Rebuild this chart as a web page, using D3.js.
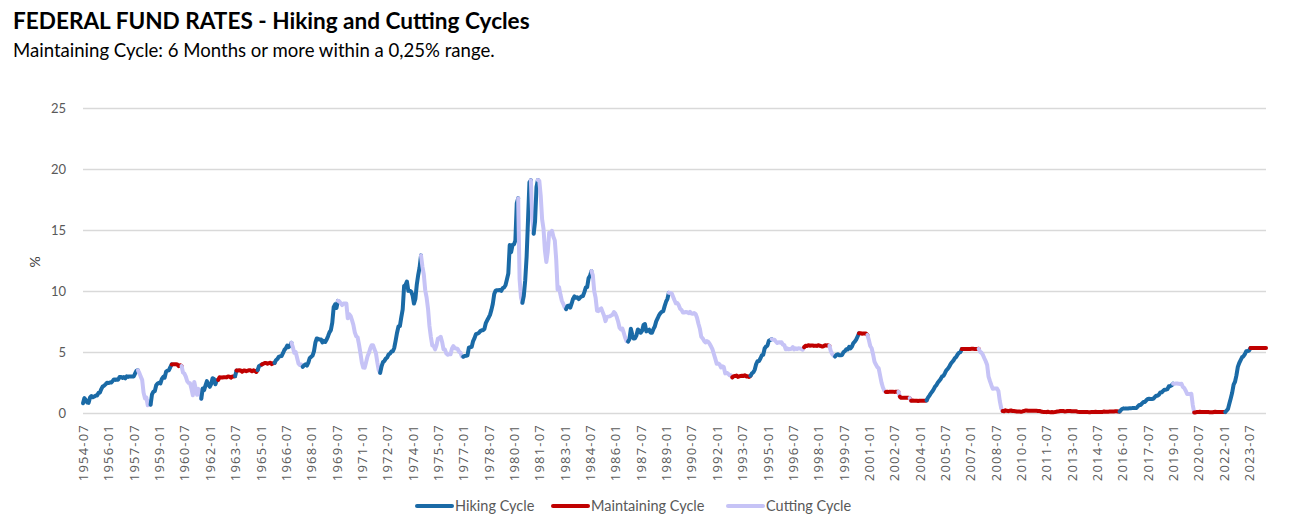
<!DOCTYPE html>
<html>
<head>
<meta charset="utf-8">
<script src="https://cdn.jsdelivr.net/npm/d3@7"></script>
<style>
  body { margin: 0; background: #fff; }
  svg { display: block; font-family: Lato, "Open Sans", sans-serif; }
</style>
</head>
<body>
<div id="chart"></div>
<script>
// monthly effective federal funds rate, 1954-07 .. 2024-07
var startMonth = '1954-07';
var rates = [].concat(
  [0.80, 1.22, 1.07, 0.85, 0.83, 1.28],
  [1.39, 1.29, 1.35, 1.43, 1.43, 1.64, 1.68, 1.96, 2.18, 2.24, 2.35, 2.48],
  [2.45, 2.50, 2.50, 2.62, 2.75, 2.71, 2.75, 2.73, 2.95, 2.96, 2.88, 2.94],
  [2.84, 3.00, 2.96, 3.00, 3.00, 3.00, 2.99, 3.24, 3.47, 3.50, 3.28, 2.98],
  [2.72, 1.67, 1.20, 1.26, 0.63, 0.93, 0.68, 1.53, 1.76, 1.80, 2.27, 2.42],
  [2.48, 2.43, 2.80, 2.96, 2.90, 3.39, 3.47, 3.50, 3.76, 3.98, 4.00, 3.99],
  [3.99, 3.97, 3.84, 3.92, 3.85, 3.32, 3.23, 2.98, 2.60, 2.47, 2.44, 1.98],
  [1.45, 2.54, 2.02, 1.49, 1.98, 1.73, 1.17, 2.00, 1.88, 2.26, 2.61, 2.33],
  [2.15, 2.37, 2.85, 2.78, 2.36, 2.68, 2.71, 2.93, 2.90, 2.90, 2.94, 2.93],
  [2.92, 3.00, 2.98, 2.90, 3.00, 2.99, 3.02, 3.49, 3.48, 3.50, 3.48, 3.38],
  [3.48, 3.48, 3.43, 3.47, 3.50, 3.50, 3.42, 3.50, 3.45, 3.36, 3.52, 3.85],
  [3.90, 3.98, 4.04, 4.09, 4.10, 4.04, 4.09, 4.12, 4.01, 4.08, 4.10, 4.32],
  [4.42, 4.60, 4.65, 4.67, 4.90, 5.17, 5.30, 5.53, 5.40, 5.53, 5.76, 5.40],
  [4.94, 5.00, 4.53, 4.05, 3.94, 3.98, 3.79, 3.90, 3.99, 3.88, 4.13, 4.51],
  [4.60, 4.71, 5.05, 5.76, 6.11, 6.07, 6.02, 6.03, 5.78, 5.91, 5.82, 6.02],
  [6.30, 6.61, 6.79, 7.41, 8.67, 8.90, 8.61, 9.19, 9.15, 9.00, 8.85, 8.97],
  [8.98, 8.98, 7.76, 8.10, 7.95, 7.61, 7.21, 6.61, 6.29, 6.20, 5.60, 4.90],
  [4.14, 3.72, 3.71, 4.16, 4.63, 4.91, 5.31, 5.56, 5.55, 5.20, 4.91, 4.14],
  [3.50, 3.29, 3.83, 4.17, 4.27, 4.46, 4.55, 4.80, 4.87, 5.04, 5.06, 5.33],
  [5.94, 6.58, 7.09, 7.12, 7.84, 8.49, 10.40, 10.50, 10.78, 10.01, 10.03, 9.95],
  [9.65, 8.97, 9.35, 10.51, 11.31, 11.93, 12.92, 12.01, 11.34, 10.06, 9.45, 8.53],
  [7.13, 6.24, 5.54, 5.49, 5.22, 5.55, 6.10, 6.14, 6.24, 5.82, 5.22, 5.20],
  [4.87, 4.77, 4.84, 4.82, 5.29, 5.48, 5.31, 5.29, 5.25, 5.02, 4.95, 4.65],
  [4.61, 4.68, 4.69, 4.73, 5.35, 5.39, 5.42, 5.90, 6.14, 6.47, 6.51, 6.56],
  [6.70, 6.78, 6.79, 6.89, 7.36, 7.60, 7.81, 8.04, 8.45, 8.96, 9.76, 10.03],
  [10.07, 10.06, 10.09, 10.01, 10.24, 10.29, 10.47, 10.94, 11.43, 13.77, 13.18, 13.78],
  [13.82, 14.13, 17.19, 17.61, 10.98, 9.47, 9.03, 9.61, 10.87, 12.81, 15.85, 18.90],
  [19.08, 15.93, 14.70, 15.72, 18.52, 19.10, 19.04, 17.82, 15.87, 15.08, 13.31, 12.37],
  [13.22, 14.78, 14.68, 14.94, 14.45, 14.15, 12.59, 10.12, 10.31, 9.71, 9.20, 8.95],
  [8.68, 8.51, 8.77, 8.80, 8.63, 8.98, 9.37, 9.56, 9.45, 9.48, 9.34, 9.47],
  [9.56, 9.59, 9.91, 10.29, 10.32, 11.06, 11.23, 11.64, 11.30, 9.99, 9.43, 8.38],
  [8.35, 8.50, 8.58, 8.27, 7.97, 7.53, 7.88, 7.90, 7.92, 7.99, 8.05, 8.27],
  [8.14, 7.86, 7.48, 6.99, 6.85, 6.92, 6.56, 6.17, 5.89, 5.85, 6.04, 6.91],
  [6.43, 6.10, 6.13, 6.37, 6.85, 6.73, 6.58, 6.73, 7.22, 7.29, 6.69, 6.77],
  [6.83, 6.58, 6.58, 6.87, 7.09, 7.51, 7.75, 8.01, 8.19, 8.30, 8.35, 8.76],
  [9.12, 9.36, 9.85, 9.84, 9.81, 9.53, 9.24, 8.99, 9.02, 8.84, 8.55, 8.45],
  [8.23, 8.24, 8.28, 8.26, 8.18, 8.29, 8.15, 8.13, 8.20, 8.11, 7.81, 7.31],
  [6.91, 6.25, 6.12, 5.91, 5.78, 5.90, 5.82, 5.66, 5.45, 5.21, 4.81, 4.43],
  [4.03, 4.06, 3.98, 3.73, 3.82, 3.76, 3.25, 3.30, 3.22, 3.10, 3.09, 2.92],
  [3.02, 3.03, 3.07, 2.96, 3.00, 3.04, 3.06, 3.03, 3.09, 2.99, 3.02, 2.96],
  [3.05, 3.25, 3.34, 3.56, 4.01, 4.25, 4.26, 4.47, 4.73, 4.76, 5.29, 5.45],
  [5.53, 5.92, 5.98, 6.05, 6.01, 6.00, 5.85, 5.74, 5.80, 5.76, 5.80, 5.60],
  [5.56, 5.22, 5.31, 5.22, 5.24, 5.27, 5.40, 5.22, 5.30, 5.24, 5.31, 5.29],
  [5.25, 5.19, 5.39, 5.51, 5.50, 5.56, 5.52, 5.54, 5.54, 5.50, 5.52, 5.50],
  [5.56, 5.51, 5.49, 5.45, 5.49, 5.56, 5.54, 5.55, 5.51, 5.07, 4.83, 4.68],
  [4.63, 4.76, 4.81, 4.74, 4.74, 4.76, 4.99, 5.07, 5.22, 5.20, 5.42, 5.30],
  [5.45, 5.73, 5.85, 6.02, 6.27, 6.53, 6.54, 6.50, 6.52, 6.51, 6.51, 6.40],
  [5.98, 5.49, 5.31, 4.80, 4.21, 3.97, 3.77, 3.65, 3.07, 2.49, 2.09, 1.82],
  [1.73, 1.74, 1.73, 1.75, 1.75, 1.75, 1.73, 1.74, 1.75, 1.75, 1.34, 1.24],
  [1.24, 1.26, 1.25, 1.26, 1.26, 1.22, 1.01, 1.03, 1.01, 1.01, 1.00, 0.98],
  [1.00, 1.01, 1.00, 1.00, 1.00, 1.03, 1.26, 1.43, 1.61, 1.76, 1.93, 2.16],
  [2.28, 2.50, 2.63, 2.79, 3.00, 3.04, 3.26, 3.50, 3.62, 3.78, 4.00, 4.16],
  [4.29, 4.49, 4.59, 4.79, 4.94, 4.99, 5.24, 5.25, 5.25, 5.25, 5.25, 5.24],
  [5.25, 5.26, 5.26, 5.25, 5.25, 5.25, 5.26, 5.02, 4.94, 4.76, 4.49, 4.24],
  [3.94, 2.98, 2.61, 2.28, 1.98, 2.00, 2.01, 2.00, 1.81, 0.97, 0.39, 0.16],
  [0.15, 0.22, 0.18, 0.15, 0.18, 0.21, 0.16, 0.16, 0.15, 0.12, 0.12, 0.12],
  [0.11, 0.13, 0.16, 0.20, 0.20, 0.18, 0.18, 0.19, 0.19, 0.19, 0.19, 0.18],
  [0.17, 0.16, 0.14, 0.10, 0.09, 0.09, 0.07, 0.10, 0.08, 0.07, 0.08, 0.07],
  [0.08, 0.10, 0.13, 0.14, 0.16, 0.16, 0.16, 0.13, 0.14, 0.16, 0.16, 0.16],
  [0.14, 0.15, 0.14, 0.15, 0.11, 0.09, 0.09, 0.08, 0.08, 0.09, 0.08, 0.09],
  [0.07, 0.07, 0.08, 0.09, 0.09, 0.10, 0.09, 0.09, 0.09, 0.09, 0.09, 0.12],
  [0.11, 0.11, 0.11, 0.12, 0.12, 0.13, 0.13, 0.14, 0.14, 0.12, 0.12, 0.24],
  [0.34, 0.38, 0.36, 0.37, 0.37, 0.38, 0.39, 0.40, 0.40, 0.40, 0.41, 0.54],
  [0.65, 0.66, 0.79, 0.90, 0.91, 1.04, 1.15, 1.16, 1.15, 1.15, 1.16, 1.30],
  [1.41, 1.42, 1.51, 1.69, 1.70, 1.82, 1.91, 1.91, 1.95, 2.19, 2.20, 2.27],
  [2.40, 2.40, 2.41, 2.42, 2.39, 2.38, 2.40, 2.13, 2.04, 1.83, 1.55, 1.55],
  [1.55, 1.58, 0.65, 0.05, 0.05, 0.08, 0.09, 0.10, 0.09, 0.09, 0.09, 0.09],
  [0.09, 0.08, 0.07, 0.07, 0.06, 0.08, 0.10, 0.09, 0.08, 0.08, 0.08, 0.08],
  [0.08, 0.08, 0.20, 0.33, 0.77, 1.21, 1.68, 2.33, 2.56, 3.08, 3.78, 4.10],
  [4.33, 4.57, 4.65, 4.83, 5.06, 5.08, 5.12, 5.33, 5.33, 5.33, 5.33, 5.33],
  [5.33, 5.33, 5.33, 5.33, 5.33, 5.33, 5.33]
);

// cycle phases: month where each phase starts, and its kind
var phaseStarts = [
  '1954-07', '1957-10', '1958-07', '1959-10', '1960-05', '1961-07', '1962-07', '1963-07',
  '1963-08', '1964-11', '1965-02', '1965-11', '1966-11', '1967-07', '1969-08', '1972-02',
  '1974-07', '1977-01', '1980-04', '1980-07', '1981-01', '1981-03', '1981-06', '1983-02',
  '1984-08', '1986-10', '1989-03', '1992-12', '1994-01', '1995-04', '1997-03', '1998-09',
  '1999-01', '2000-06', '2000-12', '2002-01', '2002-10', '2002-11', '2003-06', '2003-07',
  '2004-06', '2006-07', '2007-07', '2008-12', '2015-11', '2019-01', '2020-04', '2022-02',
  '2023-08'
];
var phaseKinds = [
  'hike', 'cut', 'hike', 'hold', 'cut', 'hike', 'hold', 'hike',
  'hold', 'hike', 'hold', 'hike', 'cut', 'hike', 'cut', 'hike',
  'cut', 'hike', 'cut', 'hike', 'cut', 'hike', 'cut', 'hike',
  'cut', 'hike', 'cut', 'hold', 'hike', 'cut', 'hold', 'cut',
  'hike', 'hold', 'cut', 'hold', 'cut', 'hold', 'cut', 'hold',
  'hike', 'hold', 'cut', 'hold', 'hike', 'cut', 'hold', 'hike',
  'hold'
];

var seriesNames = ['Hiking Cycle', 'Maintaining Cycle', 'Cutting Cycle'];
var seriesKeys = ['hike', 'hold', 'cut'];
var yTicks = [0, 5, 10, 15, 20, 25];
var labelEvery = 18;

var colors = { hike: '#1a6aa6', hold: '#c00000', cut: '#c6c3f6' };

var width = 1292, height = 532;
var plotLeft = 83, plotRight = 1266, plotTop = 108, plotBottom = 413;

// month labels from the start month
var parse = d3.timeParse('%Y-%m'), fmt = d3.timeFormat('%Y-%m');
var months = rates.map(function(d, i){ return fmt(d3.timeMonth.offset(parse(startMonth), i)); });

var svg = d3.select('#chart').append('svg')
    .attr('width', width)
    .attr('height', height);

var x = d3.scaleLinear().domain([0, months.length - 1]).range([plotLeft, plotRight]);
var y = d3.scaleLinear().domain([0, 25]).range([plotBottom, plotTop]);

//title
function fit(sel, w){
    var size = parseFloat(sel.style('font-size'));
    var len = sel.node().getComputedTextLength();
    sel.style('font-size', (size * w / len) + 'px');
}
var title = svg.append('text')
    .attr('x', 13).attr('y', 29)
    .style('font-size', '20px').style('font-weight', 'bold').style('fill', '#000')
    .text('FEDERAL FUND RATES - Hiking and Cutting Cycles');
fit(title, 517);
var sub = svg.append('text')
    .attr('x', 13).attr('y', 57)
    .style('font-size', '15px').style('fill', '#000')
    .text('Maintaining Cycle: 6 Months or more within a 0,25% range.');
fit(sub, 482);

//grid + y axis
var yAxis = svg.append('g')
    .attr('transform', 'translate(' + plotLeft + ',0)')
    .call(d3.axisLeft(y).tickValues(yTicks).tickSize(-(plotRight - plotLeft)).tickPadding(17));
yAxis.select('.domain').remove();
yAxis.selectAll('.tick line').attr('stroke', '#d9d9d9').attr('stroke-width', 1.3);
yAxis.selectAll('.tick text')
    .style('font-size', '13px').style('fill', '#595959')
    .style('font-family', 'Lato, "Open Sans", sans-serif');

svg.append('text')
    .attr('transform', 'translate(40,262) rotate(-90)')
    .attr('text-anchor', 'middle')
    .style('font-size', '14px').style('fill', '#404040')
    .text('%');

//x labels
var xAxis = svg.append('g')
    .attr('transform', 'translate(0,' + plotBottom + ')')
    .call(d3.axisBottom(x)
        .tickValues(d3.range(0, months.length, labelEvery))
        .tickFormat(function(i){ return months[i]; })
        .tickSize(0));
xAxis.select('.domain').remove();
xAxis.selectAll('.tick text')
    .attr('transform', 'rotate(-90)')
    .attr('text-anchor', 'end')
    .attr('x', -11).attr('y', 0).attr('dy', '0.35em')
    .style('font-size', '13px').style('fill', '#595959')
    .style('letter-spacing', '1.2px')
    .style('font-family', '"Open Sans", sans-serif');

//cycle lines
var line = d3.line()
    .x(function(d){ return x(d); })
    .y(function(d){ return y(rates[d]); });

var phases = phaseStarts.map(function(s, i){
    var a = months.indexOf(s);
    var b = i < phaseStarts.length - 1 ? months.indexOf(phaseStarts[i + 1]) : months.length - 1;
    return { kind: phaseKinds[i], idx: d3.range(a, b + 1) };
});

svg.append('g').selectAll('path')
    .data(phases)
    .join('path')
    .attr('d', function(d){ return line(d.idx); })
    .attr('fill', 'none')
    .attr('stroke', function(d){ return colors[d.kind]; })
    .attr('stroke-width', 4)
    .attr('stroke-linejoin', 'round')
    .attr('stroke-linecap', 'round');

//legend
var legendX = [417, 553, 728];
var legend = svg.append('g').selectAll('g')
    .data(seriesKeys)
    .join('g')
    .attr('transform', function(d, i){ return 'translate(' + legendX[i] + ',506)'; });
legend.append('line')
    .attr('x1', 0).attr('x2', 35)
    .attr('stroke', function(d){ return colors[d]; })
    .attr('stroke-width', 4)
    .attr('stroke-linecap', 'round');
legend.append('text')
    .attr('x', 38).attr('dy', '0.35em')
    .style('font-size', '14.5px').style('fill', '#595959')
    .text(function(d, i){ return seriesNames[i]; });
</script>
</body>
</html>
